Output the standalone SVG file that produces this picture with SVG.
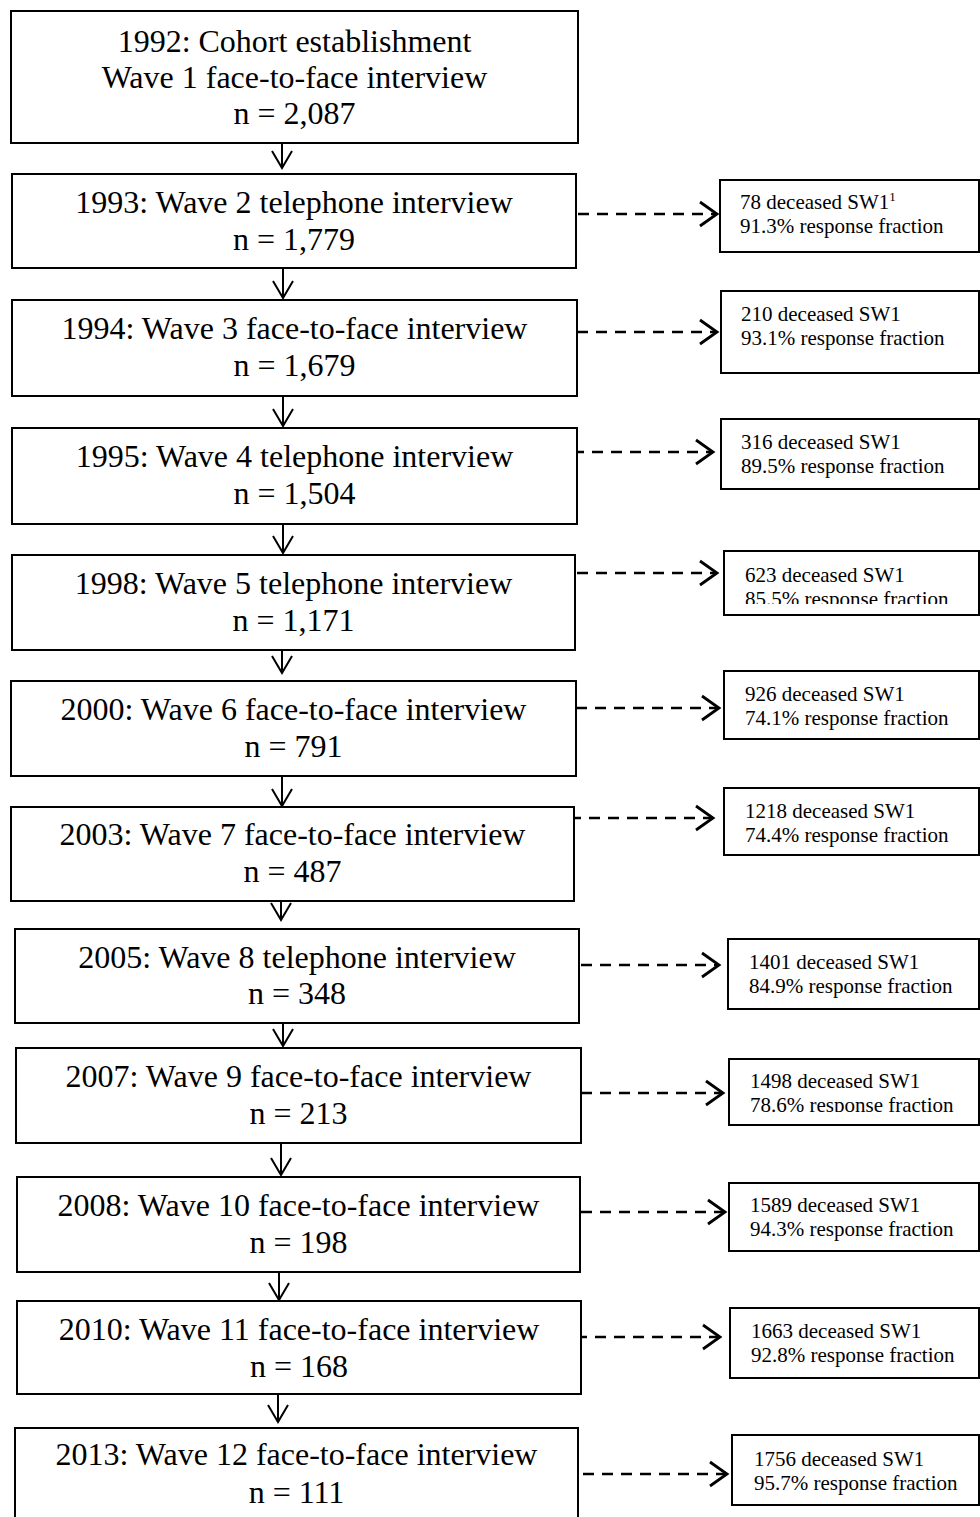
<svg xmlns="http://www.w3.org/2000/svg" width="980" height="1517" viewBox="0 0 980 1517">
<style>
.box{fill:#fff;stroke:#000;stroke-width:2}
.side{fill:#fff;stroke:#000;stroke-width:2}
.mt{font-family:"Liberation Serif","Times New Roman",serif;font-size:32px;fill:#000;text-anchor:middle}
.st{font-family:"Liberation Serif","Times New Roman",serif;font-size:21px;fill:#000}
.v{fill:none;stroke:#000;stroke-width:2}
.d{fill:none;stroke:#000;stroke-width:2.6;stroke-dasharray:11 8}
.h{fill:none;stroke:#000;stroke-width:2.8}
</style>
<defs>
<clipPath id="c4"><rect x="724" y="551" width="256" height="53"/></clipPath>
<clipPath id="c8"><rect x="729" y="1059" width="251" height="53"/></clipPath>
</defs>
<rect width="980" height="1517" fill="#fff"/>
<g id="connectors">
<path class="v" d="M282 143V168M272 151L282 168L292 151"/>
<path class="v" d="M283 268V298M273 281L283 298L293 281"/>
<path class="v" d="M283 396V426M273 409L283 426L293 409"/>
<path class="v" d="M283 524V553M273 536L283 553L293 536"/>
<path class="v" d="M282 650V673M272 656L282 673L292 656"/>
<path class="v" d="M282 773V806M272 789L282 806L292 789"/>
<path class="v" d="M281 896V920M271 903L281 920L291 903"/>
<path class="v" d="M283 1018V1046M273 1029L283 1046L293 1029"/>
<path class="v" d="M281 1143V1175M271 1158L281 1175L291 1158"/>
<path class="v" d="M279 1272V1300M269 1283L279 1300L289 1283"/>
<path class="v" d="M278 1394V1422M268 1405L278 1422L288 1405"/>
<path class="d" d="M578 214H715"/><path class="h" d="M700 202L717 214L700 226"/>
<path class="d" d="M577 332H715"/><path class="h" d="M700 320L717 332L700 344"/>
<path class="d" d="M573 452H711"/><path class="h" d="M696 440L713 452L696 464"/>
<path class="d" d="M577 573H715"/><path class="h" d="M700 561L717 573L700 585"/>
<path class="d" d="M576 708H717"/><path class="h" d="M702 696L719 708L702 720"/>
<path class="d" d="M570 818H711"/><path class="h" d="M696 806L713 818L696 830"/>
<path class="d" d="M581 965H717"/><path class="h" d="M702 953L719 965L702 977"/>
<path class="d" d="M581 1093H721"/><path class="h" d="M706 1081L723 1093L706 1105"/>
<path class="d" d="M581 1212H723"/><path class="h" d="M708 1200L725 1212L708 1224"/>
<path class="d" d="M576 1337H718"/><path class="h" d="M703 1325L720 1337L703 1349"/>
<path class="d" d="M583 1474H725"/><path class="h" d="M710 1462L727 1474L710 1486"/>
</g>
<g id="n1"><rect class="box" x="11" y="11" width="567" height="132"/>
<text class="mt" x="294.5" y="52">1992: Cohort establishment</text>
<text class="mt" x="294.5" y="88">Wave 1 face-to-face interview</text>
<text class="mt" x="294.5" y="124">n = 2,087</text></g>
<g id="n2"><rect class="box" x="12" y="174" width="564" height="94"/>
<text class="mt" x="294" y="213">1993: Wave 2 telephone interview</text>
<text class="mt" x="294" y="250">n = 1,779</text></g>
<g id="n3"><rect class="box" x="12" y="300" width="565" height="96"/>
<text class="mt" x="294.5" y="339">1994: Wave 3 face-to-face interview</text>
<text class="mt" x="294.5" y="376">n = 1,679</text></g>
<g id="n4"><rect class="box" x="12" y="428" width="565" height="96"/>
<text class="mt" x="294.5" y="467">1995: Wave 4 telephone interview</text>
<text class="mt" x="294.5" y="504">n = 1,504</text></g>
<g id="n5"><rect class="box" x="12" y="555" width="563" height="95"/>
<text class="mt" x="293.5" y="594">1998: Wave 5 telephone interview</text>
<text class="mt" x="293.5" y="631">n = 1,171</text></g>
<g id="n6"><rect class="box" x="11" y="681" width="565" height="95"/>
<text class="mt" x="293.5" y="720">2000: Wave 6 face-to-face interview</text>
<text class="mt" x="293.5" y="757">n = 791</text></g>
<g id="n7"><rect class="box" x="11" y="807" width="563" height="94"/>
<text class="mt" x="292.5" y="845">2003: Wave 7 face-to-face interview</text>
<text class="mt" x="292.5" y="882">n = 487</text></g>
<g id="n8"><rect class="box" x="15" y="929" width="564" height="94"/>
<text class="mt" x="297" y="968">2005: Wave 8 telephone interview</text>
<text class="mt" x="297" y="1004">n = 348</text></g>
<g id="n9"><rect class="box" x="16" y="1048" width="565" height="95"/>
<text class="mt" x="298.5" y="1087">2007: Wave 9 face-to-face interview</text>
<text class="mt" x="298.5" y="1124">n = 213</text></g>
<g id="n10"><rect class="box" x="17" y="1177" width="563" height="95"/>
<text class="mt" x="298.5" y="1216">2008: Wave 10 face-to-face interview</text>
<text class="mt" x="298.5" y="1253">n = 198</text></g>
<g id="n11"><rect class="box" x="17" y="1301" width="564" height="93"/>
<text class="mt" x="299" y="1340">2010: Wave 11 face-to-face interview</text>
<text class="mt" x="299" y="1377">n = 168</text></g>
<g id="n12"><rect class="box" x="15" y="1428" width="563" height="110"/>
<text class="mt" x="296.5" y="1465">2013: Wave 12 face-to-face interview</text>
<text class="mt" x="296.5" y="1503">n = 111</text></g>
<g id="r1"><rect class="side" x="720" y="180" width="259" height="72"/>
<text class="st" x="740" y="209">78 deceased SW1<tspan font-size="13" dy="-8">1</tspan></text>
<text class="st" x="740" y="233">91.3% response fraction</text></g>
<g id="r2"><rect class="side" x="721" y="291" width="258" height="82"/>
<text class="st" x="741" y="321">210 deceased SW1</text>
<text class="st" x="741" y="345">93.1% response fraction</text></g>
<g id="r3"><rect class="side" x="721" y="419" width="258" height="70"/>
<text class="st" x="741" y="449">316 deceased SW1</text>
<text class="st" x="741" y="473">89.5% response fraction</text></g>
<g id="r4"><rect class="side" x="724" y="551" width="255" height="64"/>
<g clip-path="url(#c4)"><text class="st" x="745" y="582">623 deceased SW1</text>
<text class="st" x="745" y="606">85.5% response fraction</text></g></g>
<g id="r5"><rect class="side" x="724" y="671" width="255" height="68"/>
<text class="st" x="745" y="701">926 deceased SW1</text>
<text class="st" x="745" y="725">74.1% response fraction</text></g>
<g id="r6"><rect class="side" x="724" y="788" width="255" height="67"/>
<text class="st" x="745" y="818">1218 deceased SW1</text>
<text class="st" x="745" y="842">74.4% response fraction</text></g>
<g id="r7"><rect class="side" x="728" y="939" width="251" height="70"/>
<text class="st" x="749" y="969">1401 deceased SW1</text>
<text class="st" x="749" y="993">84.9% response fraction</text></g>
<g id="r8"><rect class="side" x="729" y="1059" width="250" height="66"/>
<g clip-path="url(#c8)"><text class="st" x="750" y="1088">1498 deceased SW1</text>
<text class="st" x="750" y="1112">78.6% response fraction</text></g></g>
<g id="r9"><rect class="side" x="729" y="1183" width="250" height="68"/>
<text class="st" x="750" y="1212">1589 deceased SW1</text>
<text class="st" x="750" y="1236">94.3% response fraction</text></g>
<g id="r10"><rect class="side" x="730" y="1308" width="249" height="70"/>
<text class="st" x="751" y="1338">1663 deceased SW1</text>
<text class="st" x="751" y="1362">92.8% response fraction</text></g>
<g id="r11"><rect class="side" x="732" y="1435" width="247" height="70"/>
<text class="st" x="754" y="1466">1756 deceased SW1</text>
<text class="st" x="754" y="1490">95.7% response fraction</text></g>
</svg>
